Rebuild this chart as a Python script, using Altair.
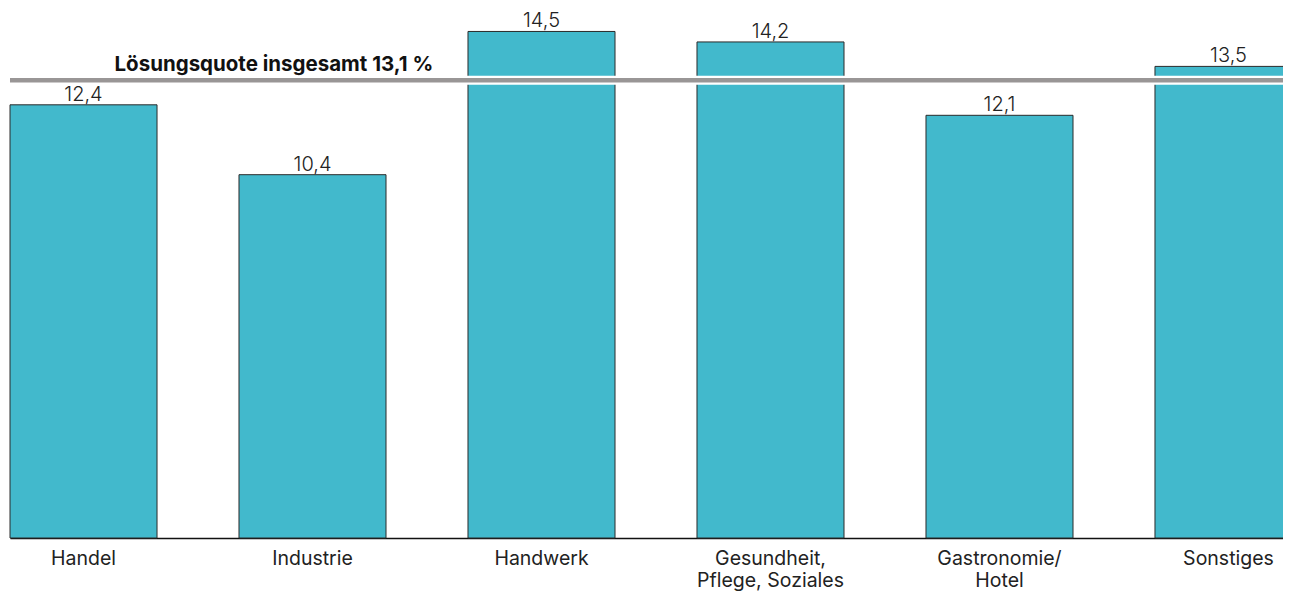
import altair as alt
import pandas as pd

categories = ["Handel", "Industrie", "Handwerk", "Gesundheit,|Pflege, Soziales", "Gastronomie/|Hotel", "Sonstiges"]
values = [12.4, 10.4, 14.5, 14.2, 12.1, 13.5]
value_labels = ["12,4", "10,4", "14,5", "14,2", "12,1", "13,5"]
total_value = 13.1
total_label = "Lösungsquote insgesamt 13,1 %"

df = pd.DataFrame({"cat": categories, "val": values, "lab": value_labels})
ref = pd.DataFrame({"y": [total_value], "cat": [categories[0]], "lab": [total_label]})

FONT = "Inter"

xscale = alt.Scale(paddingInner=0.358, paddingOuter=0, range=[0, 1292])
x = alt.X("cat:N", sort=categories, scale=xscale,
          axis=alt.Axis(title=None, labelAngle=0, ticks=False, domainColor="#111",
                        domainWidth=1.5, labelFont=FONT, labelFontSize=19.5,
                        labelColor="#222", labelPadding=11, labelLineHeight=22,
                        labelExpr="split(datum.label, '|')"))
yscale = alt.Scale(domain=[0, 15], nice=False)

bars = alt.Chart(df).mark_bar(color="#42b9cc", stroke="#2a2a2a", strokeWidth=1).encode(
    x=x, y=alt.Y("val:Q", scale=yscale, axis=None))

vals = alt.Chart(df).mark_text(font=FONT, fontSize=20, fontWeight=300, color="#222",
                               baseline="alphabetic", dy=-4).encode(
    x=alt.X("cat:N", sort=categories, scale=xscale), y=alt.Y("val:Q", scale=yscale), text="lab:N")

rule_bg = alt.Chart(ref).mark_rule(color="white", strokeWidth=9).encode(
    y=alt.Y("y:Q", scale=yscale))
rule = alt.Chart(ref).mark_rule(color="#999696", strokeWidth=4.5).encode(
    y=alt.Y("y:Q", scale=yscale))
ref_text = alt.Chart(ref).mark_text(font=FONT, fontSize=20.5, fontWeight="bold", color="#111",
                                    align="left", baseline="alphabetic", dx=31, dy=-9).encode(
    x=alt.X("cat:N", sort=categories, scale=xscale), y=alt.Y("y:Q", scale=yscale), text="lab:N")

chart = alt.layer(bars, vals, rule_bg, rule, ref_text).properties(
    width=1273, height=524,
    autosize=alt.AutoSizeParams(type="none"),
    padding={"left": 2, "top": 6, "right": 0, "bottom": 58}
).configure(background="white").configure_view(stroke=None)

chart.save("out.html", embed_options={"renderer": "svg", "actions": False})
